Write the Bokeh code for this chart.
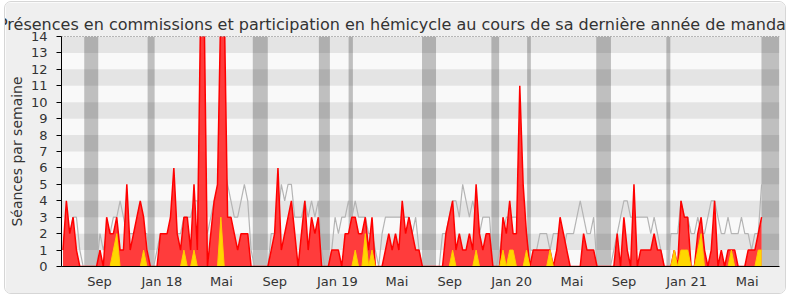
from bokeh.plotting import figure
from bokeh.models import FixedTicker, Range1d, Span
from bokeh.embed import file_html
from bokeh.resources import INLINE

TITLE = "Présences en commissions et participation en hémicycle au cours de sa dernière année de mandat"
Y_LABEL = "Séances par semaine"

# x tick positions (in weeks since start) and their labels
tick_weeks = [10.88, 29.44, 47.18, 63.02, 81.69, 99.43, 115.14, 133.57, 151.52, 167.03, 185.66, 203.7]
tick_labels = ["Sep", "Jan 18", "Mai", "Sep", "Jan 19", "Mai", "Sep", "Jan 20", "Mai", "Sep", "Jan 21", "Mai"]

# red: présences (commissions + hémicycle), per week
presences = [
    1, 4, 2, 3, 1, 0, 0, 0, 0, 0,   0, 1, 0, 3, 2, 2, 3, 1, 1, 5,
    1, 2, 3, 4, 3, 1, 0, 0, 0, 2,   2, 2, 3, 6, 2, 1, 3, 3, 1, 5,
    1, 16, 16, 0, 2, 4, 5, 16, 16, 3, 3, 2, 1, 2, 2, 2, 0, 0, 0, 0,
    0, 0, 1, 2, 6, 1, 2, 3, 4, 2,   0, 2, 4, 1, 3, 2, 3, 0, 0, 0,
    1, 1, 1, 0, 2, 2, 3, 3, 2, 2,   3, 1, 3, 0, 0, 0, 1, 2, 1, 2,
    1, 4, 2, 3, 2, 1, 1, 0, 0, 0,   0, 0, 0, 0, 2, 3, 4, 1, 2, 1,
    1, 2, 1, 5, 2, 1, 2, 2, 0, 0,   0, 3, 2, 4, 2, 2, 11, 5, 2, 0,
    1, 1, 1, 1, 1, 1, 0, 1, 3, 2,   1, 0, 0, 0, 0, 2, 1, 1, 1, 0,
    0, 0, 0, 0, 0, 2, 0, 3, 1, 0,   5, 0, 1, 1, 1, 1, 2, 1, 1, 0,
    0, 0, 1, 0, 4, 3, 3, 0, 0, 2,   3, 1, 0, 1, 4, 0, 1, 0, 1, 1,
    1, 0, 0, 0, 1, 1, 1, 2, 3,
]

# yellow: interventions, per week
interventions = [
    0, 0, 0, 0, 0, 0, 0, 0, 0, 0,   0, 0, 0, 0, 0, 1, 2, 0, 0, 0,
    0, 0, 0, 0, 1, 0, 0, 0, 0, 0,   0, 0, 0, 0, 0, 0, 1, 0, 0, 1,
    0, 0, 0, 0, 0, 0, 0, 3, 0, 0,   0, 0, 0, 0, 0, 0, 0, 0, 0, 0,
    0, 0, 0, 0, 0, 0, 0, 0, 0, 0,   0, 0, 0, 0, 0, 0, 0, 0, 0, 0,
    0, 0, 0, 0, 0, 0, 0, 1, 0, 0,   2, 0, 1, 0, 0, 0, 0, 0, 0, 0,
    0, 0, 0, 0, 0, 0, 0, 0, 0, 0,   0, 0, 0, 0, 0, 0, 1, 0, 0, 0,
    0, 0, 0, 1, 0, 0, 0, 0, 0, 0,   0, 1, 0, 1, 1, 0, 0, 0, 1, 0,
    0, 0, 0, 0, 0, 1, 0, 0, 0, 0,   0, 0, 0, 0, 0, 0, 0, 0, 0, 0,
    0, 0, 0, 0, 0, 0, 0, 0, 0, 0,   0, 0, 0, 0, 0, 0, 0, 0, 0, 0,
    0, 0, 1, 0, 1, 1, 1, 0, 0, 1,   2, 0, 0, 0, 0, 0, 0, 0, 0, 1,
    0, 0, 0, 0, 0, 0, 0, 1, 1,
]

# grey: médiane des députés, per week
mediane = [
    1, 3, 2, 3, 3, 1, 0, 0, 0, 0,   0, 2, 1, 2, 2, 3, 3, 4, 3, 2,
    2, 2, 2, 2, 2, 2, 0, 0, 1, 2,   2, 2, 2, 3, 2, 2, 3, 3, 3, 4,
    4, 3, 3, 2, 3, 4, 4, 6, 6, 5,   4, 3, 3, 4, 5, 4, 1, 0, 0, 0,
    0, 0, 2, 2, 3, 5, 4, 5, 5, 3,   3, 3, 4, 3, 4, 3, 4, 1, 0, 0,
    1, 3, 2, 3, 3, 4, 3, 4, 3, 3,   3, 2, 2, 1, 0, 2, 3, 3, 3, 3,
    3, 3, 3, 3, 2, 3, 1, 0, 0, 0,   0, 0, 0, 2, 2, 3, 4, 4, 3, 5,
    4, 3, 4, 3, 2, 3, 3, 3, 0, 0,   1, 2, 3, 3, 3, 3, 3, 3, 2, 1,
    1, 1, 2, 2, 2, 1, 2, 2, 2, 1,   2, 2, 2, 3, 4, 3, 2, 2, 3, 0,
    0, 0, 0, 0, 1, 2, 3, 4, 4, 3,   3, 3, 3, 3, 3, 2, 3, 2, 1, 0,
    0, 2, 2, 2, 4, 3, 3, 2, 2, 3,   2, 2, 3, 4, 4, 3, 2, 2, 3, 2,
    2, 2, 3, 2, 2, 1, 2, 2, 5,
]

# parliamentary recess periods (week positions)
vacances_debut = [6.32, 25.19, 56.50, 76.18, 85.03, 106.89, 127.55, 138.19, 158.77, 179.64, 207.96]
vacances_fin = [10.49, 27.28, 60.97, 79.46, 86.31, 111.06, 129.85, 139.30, 163.15, 180.83, 213.33]

weeks = list(range(len(presences)))
X_START, X_END = -0.45, 213.33
Y_MAX = 14
FONT = "DejaVu Sans"

p = figure(width=780, height=291, output_backend="svg", toolbar_location=None,
           x_range=Range1d(X_START, X_END), y_range=Range1d(0, Y_MAX),
           min_border_left=56, min_border_right=6, min_border_top=34, min_border_bottom=27)
p.margin = (2, 5, 7, 5)
p.styles = {"border-radius": "6px", "outline": "1px solid #d6d6d6", "overflow": "hidden"}
p.background_fill_color = "#f9f9f9"
p.border_fill_color = "#efefef"
p.outline_line_color = None
p.xgrid.visible = False
p.ygrid.visible = False

p.title.text = TITLE
p.title.align = "left"
p.title.offset = -63.5
p.title.text_font = FONT
p.title.text_font_size = "16px"
p.title.text_font_style = "normal"
p.title.text_color = "#333333"
p.title.standoff = 6

# horizontal stripes
stripe_y = [k + 0.5 for k in range(1, Y_MAX, 2)]
p.hbar(y=stripe_y, height=1, left=X_START, right=X_END, fill_color="#e4e4e4", line_color=None)

# recess bands
p.quad(left=vacances_debut, right=vacances_fin, bottom=0, top=Y_MAX,
       fill_color="black", fill_alpha=0.23, line_color=None)

# series
p.line(weeks, mediane, line_color="#b4b4b4", line_width=1.2)
p.varea(x=weeks, y1=0, y2=presences, fill_color="#ff3c3c")
p.line(weeks, presences, line_color="#ff0000", line_width=1.5)
p.varea(x=weeks, y1=0, y2=interventions, fill_color="#ffd700")
p.line(weeks, interventions, line_color="#ffcc00", line_width=1)

p.add_layout(Span(location=Y_MAX, dimension="width", line_color="black",
                  line_dash="1 2", line_width=1))

# axes
p.yaxis.ticker = FixedTicker(ticks=list(range(0, Y_MAX + 1)))
p.yaxis.axis_label = Y_LABEL
p.yaxis.axis_label_text_font = FONT
p.yaxis.axis_label_text_font_size = "14px"
p.yaxis.axis_label_text_font_style = "normal"
p.yaxis.axis_label_text_color = "#333333"
p.yaxis.axis_label_standoff = 3
p.yaxis.major_label_text_font = FONT
p.yaxis.major_label_text_font_size = "13px"
p.yaxis.major_label_text_color = "#333333"
p.yaxis.major_label_standoff = 9
p.yaxis.major_tick_out = 5
p.yaxis.major_tick_in = 0
p.yaxis.minor_tick_line_color = None
p.yaxis.axis_line_color = "black"
p.yaxis.major_tick_line_color = "black"

p.xaxis.ticker = FixedTicker(ticks=tick_weeks)
p.xaxis.major_label_overrides = dict(zip(tick_weeks, tick_labels))
p.xaxis.major_label_text_font = FONT
p.xaxis.major_label_text_font_size = "13px"
p.xaxis.major_label_text_color = "#333333"
p.xaxis.major_label_standoff = 1
p.xaxis.major_tick_line_color = None
p.xaxis.minor_tick_line_color = None
p.xaxis.axis_line_color = "black"

open("out.html", "w").write(file_html(p, INLINE))
